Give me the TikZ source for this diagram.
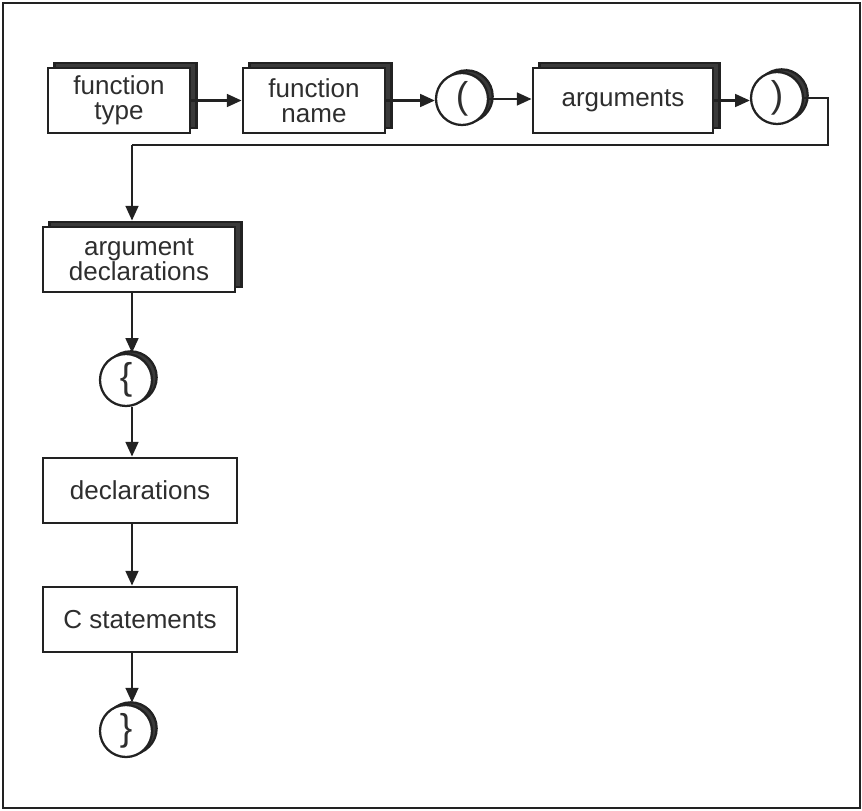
\documentclass[tikz,border=0pt]{standalone}
\usepackage{fontspec}
\setmainfont{Liberation Sans}
\usetikzlibrary{arrows.meta,shadows}
\definecolor{ink}{HTML}{222222}
\definecolor{txt}{HTML}{2e2e2e}
\definecolor{shade}{HTML}{3a3a3a}
\begin{document}
\begin{tikzpicture}[x=0.75pt,y=-0.75pt,
  lbl/.style={font=\fontsize{19.5}{19}\selectfont, text=txt, align=center, inner sep=0pt},
  boxs/.style={lbl, draw=ink, line width=2.1pt, fill=white, minimum height=48.75pt},
  sboxs/.style={boxs, copy shadow={fill=shade, draw=ink, line width=2.1pt, shadow xshift=5pt, shadow yshift=3.75pt}},
  circs/.style={lbl, circle, draw=ink, line width=1.7pt, fill=white, minimum size=39pt,
     font=\fontsize{28}{28}\selectfont,
     copy shadow={fill=shade, draw=ink, line width=1.7pt, shadow xshift=3.5pt, shadow yshift=2pt}},
  conn/.style={draw=ink, line width=1.8pt, -{Triangle[length=11pt,width=9.5pt]}},
  wire/.style={draw=ink, line width=1.8pt}
]
\useasboundingbox (0,0) rectangle (862,810);
\draw[ink, line width=1.6pt] (3,3) rectangle (860,808);

\node[sboxs, minimum width=106.5pt] (ftype) at (119,100.5) {function\\type};
\node[sboxs, minimum width=106.5pt] (fname) at (314,100.5) {function\\name};
\node[circs] (lp) at (462,99) {(};
\node[sboxs, minimum width=135pt] (args) at (623,100.5) {arguments};
\node[circs] (rp) at (777,98) {)};

\node[sboxs, minimum width=144pt] (argdecl) at (139,259.5) {argument\\declarations};
\node[circs] (lb) at (126,380) {\{};
\node[boxs, minimum width=145.5pt] (decl) at (140,490.5) {declarations};
\node[boxs, minimum width=145.5pt] (cstat) at (140,619.5) {C statements};
\node[circs] (rb) at (126,731) {\}};

\coordinate (spine) at (132,0);
\coordinate (turn1) at (828,0);
\coordinate (turn2) at (828,145);
\coordinate (turn3) at (132,145);

\draw[conn] (ftype.east) -- (fname.west |- ftype.east);
\draw[conn] (fname.east) -- (lp.west |- fname.east);
\draw[conn] (lp.east) -- (args.west |- lp.east);
\draw[conn] (args.east) -- (rp.west |- args.east);
\draw[wire] (rp.east) -- (turn1 |- rp.east) -- (turn2) -- (turn3);
\draw[conn] (turn3) -- ([yshift=3.75pt]argdecl.north -| spine);
\draw[conn] (argdecl.south -| spine) -- (lb.north -| spine);
\draw[conn] (lb.south -| spine) -- (decl.north -| spine);
\draw[conn] (decl.south -| spine) -- (cstat.north -| spine);
\draw[conn] (cstat.south -| spine) -- ([yshift=1pt]rb.north -| spine);
\end{tikzpicture}
\end{document}
